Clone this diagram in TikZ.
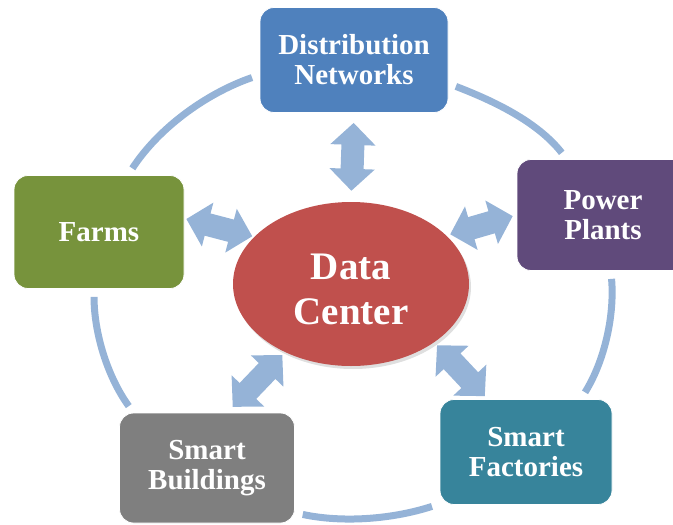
\documentclass[tikz,border=0pt]{standalone}
\usepackage{fontspec}
\setmainfont{Liberation Serif}
\usepackage{tikz}
\usetikzlibrary{arrows.meta,shapes.geometric,shadows}
\definecolor{palBlue}{HTML}{4F81BD}
\definecolor{palGreen}{HTML}{77933C}
\definecolor{palPurple}{HTML}{604A7B}
\definecolor{palRed}{HTML}{C0504D}
\definecolor{palGray}{HTML}{7F7F7F}
\definecolor{palTeal}{HTML}{37849B}
\definecolor{palLink}{HTML}{95B3D7}
\tikzset{
  sectorbox/.style={draw=white, line width=0.8pt, rounded corners=14pt,
                    minimum width=172pt, minimum height=108pt, align=center,
                    text=white, font=\fontsize{29}{30}\selectfont\bfseries},
  hubnode/.style={ellipse, draw=none, fill=palRed, minimum width=236pt,
                  minimum height=164pt, align=center, text=white,
                  font=\fontsize{39}{45}\selectfont\bfseries,
                  text height=81pt, text depth=0pt,
                  drop shadow={opacity=0.25, shadow xshift=2pt, shadow yshift=-3pt}},
  ringarc/.style={palLink, line width=7pt, looseness=0.87,
                  shorten >=8pt, shorten <=8pt},
  dblarrow/.style={palLink, line width=23pt,
                   {Triangle[width=44pt,length=22pt]}-{Triangle[width=44pt,length=22pt]},
                   shorten >=4pt, shorten <=4pt},
}
\begin{document}
\begin{tikzpicture}[x=1pt, y=-1pt]
\clip (0,0) rectangle (673,525);
%% Hub
\node[hubnode] (dc) at (351,284) {Data\\Center};
%% Sectors
\node[sectorbox, fill=palBlue, minimum width=188pt, minimum height=105pt] (dist) at (354,60) {Distribution\\Networks};
\node[sectorbox, fill=palPurple, minimum height=111pt] (power) at (603,215) {Power\\Plants};
\node[sectorbox, fill=palTeal, minimum height=105pt] (fact) at (526,452) {Smart\\Factories};
\node[sectorbox, fill=palGray, minimum width=175pt, minimum height=110pt] (build) at (207,468) {Smart\\Buildings};
\node[sectorbox, fill=palGreen, minimum width=170pt, minimum height=113pt] (farms) at (99,232) {Farms};
%% Ring
\draw[ringarc] (dist.-14) to[out=-21, in=128] (power.123);
\draw[ringarc] (power.-82) to[out=-85, in=58] (fact.44);
\draw[ringarc] (fact.211) to[out=198, in=-12] (build.-27);
\draw[ringarc] (build.143) to[out=126, in=-90] (farms.-95);
\draw[ringarc] (farms.63) to[out=57, in=199] (dist.189);
%% Links to hub
\draw[dblarrow, shorten >=10pt, shorten <=11pt] (dc.north) -- (dist.south);
\draw[dblarrow] (dc.27) -- (power.west);
\draw[dblarrow] (dc.-35) -- (fact.126);
\draw[dblarrow, shorten >=8pt] (dc.226) -- (build.70);
\draw[dblarrow, shorten >=2pt, shorten <=2pt] (dc.154) -- (farms.9);
\end{tikzpicture}
\end{document}
